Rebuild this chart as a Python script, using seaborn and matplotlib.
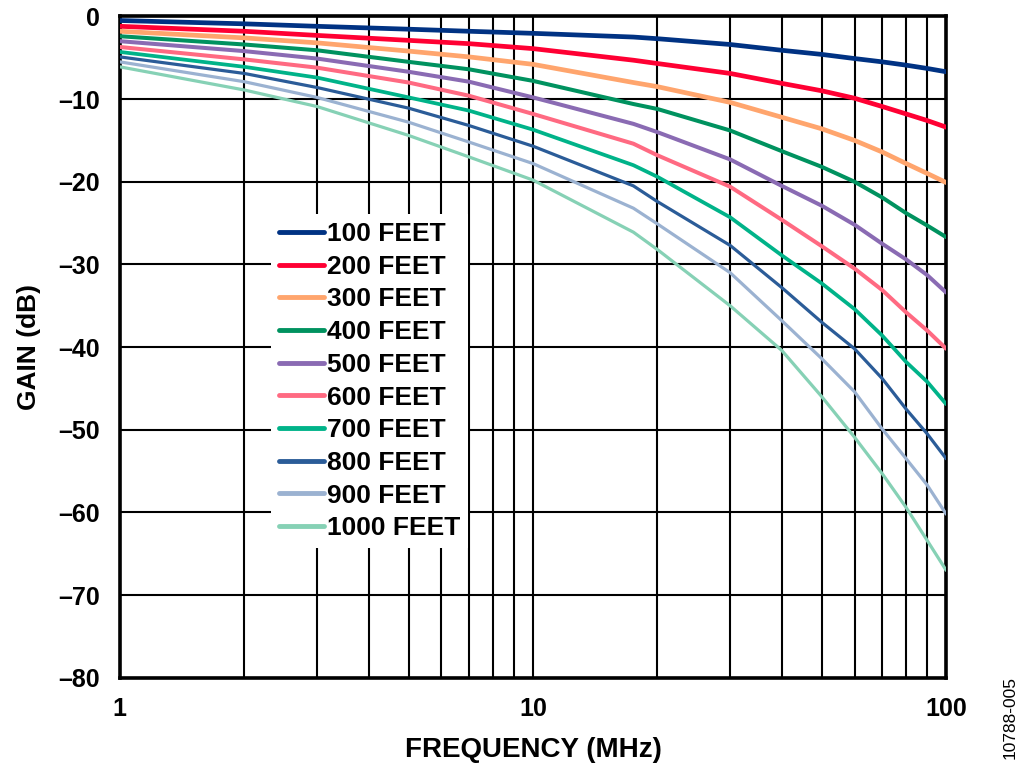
import matplotlib
matplotlib.use("Agg")
import matplotlib.pyplot as plt
import matplotlib.ticker as mticker
import seaborn as sns
import pandas as pd

# frequency points (MHz)
freq = [1, 2, 3, 5, 7, 10, 17.5, 20, 30, 40, 50, 60, 70, 80, 90, 100]

gain_100 = [-0.5, -0.9, -1.2, -1.55, -1.8, -2.05, -2.5, -2.7, -3.4, -4.1, -4.6, -5.1, -5.5, -5.9, -6.3, -6.7]
gain_200 = [-1.2, -1.8, -2.3, -2.9, -3.3, -3.9, -5.3, -5.7, -6.9, -8.1, -9.0, -9.9, -10.9, -11.8, -12.6, -13.4]
gain_300 = [-1.8, -2.6, -3.2, -4.2, -4.9, -5.8, -8.0, -8.5, -10.4, -12.2, -13.6, -15.0, -16.4, -17.8, -19.0, -20.1]
gain_400 = [-2.4, -3.4, -4.1, -5.5, -6.4, -7.8, -10.6, -11.2, -13.8, -16.3, -18.2, -20.0, -21.9, -23.8, -25.3, -26.7]
gain_500 = [-3.0, -4.2, -5.1, -6.7, -7.9, -9.8, -13.0, -14.0, -17.3, -20.5, -22.9, -25.2, -27.5, -29.4, -31.3, -33.4]
gain_600 = [-3.7, -5.2, -6.2, -8.0, -9.6, -11.8, -15.4, -16.8, -20.6, -24.6, -27.8, -30.5, -33.1, -35.8, -38.0, -40.2]
gain_700 = [-4.3, -6.1, -7.4, -9.8, -11.4, -13.7, -18.0, -19.4, -24.3, -28.9, -32.3, -35.4, -38.6, -41.8, -44.2, -46.9]
gain_800 = [-4.9, -6.9, -8.6, -11.1, -13.2, -15.7, -20.5, -22.4, -27.7, -32.8, -37.0, -40.2, -43.8, -47.5, -50.5, -53.5]
gain_900 = [-5.5, -7.9, -9.8, -12.8, -15.2, -17.8, -23.2, -25.1, -31.0, -36.8, -41.4, -45.4, -49.9, -53.5, -56.7, -60.2]
gain_1000 = [-6.1, -8.9, -10.9, -14.4, -17.0, -19.8, -26.1, -28.2, -35.0, -40.4, -46.0, -50.9, -55.3, -59.4, -63.4, -67.0]

labels = ["100 FEET", "200 FEET", "300 FEET", "400 FEET", "500 FEET",
          "600 FEET", "700 FEET", "800 FEET", "900 FEET", "1000 FEET"]
gains = [gain_100, gain_200, gain_300, gain_400, gain_500,
         gain_600, gain_700, gain_800, gain_900, gain_1000]

colors = ["#003283", "#ff0033", "#ffa56d", "#00925f", "#8a6bb3",
          "#ff6a82", "#00b389", "#2b5c98", "#9bb2d1", "#86d1b5"]
widths = [3.4, 3.4, 3.4, 2.9, 2.9, 2.9, 2.7, 2.3, 2.3, 2.3]

yticks = [0, -10, -20, -30, -40, -50, -60, -70, -80]
ytick_labels = ["0", "–10", "–20", "–30", "–40", "–50", "–60", "–70", "–80"]
xticks = [1, 10, 100]
xtick_labels = ["1", "10", "100"]

rows = []
for lab, g in zip(labels, gains):
    for f, v in zip(freq, g):
        rows.append({"freq": f, "gain": v, "cable": lab})
df = pd.DataFrame(rows)

sns.set_style("white")
plt.rcParams["font.family"] = ["Liberation Sans", "DejaVu Sans"]
plt.rcParams["text.color"] = "black"
plt.rcParams["axes.labelcolor"] = "black"
plt.rcParams["xtick.color"] = "black"
plt.rcParams["ytick.color"] = "black"

fig = plt.figure(figsize=(10.24, 7.80), dpi=100)
ax = fig.add_axes([0.117, 0.131, 0.807, 0.848])

for lab, col, lw in zip(labels, colors, widths):
    sns.lineplot(data=df[df["cable"] == lab], x="freq", y="gain",
                 color=col, linewidth=lw, label=lab, ax=ax, zorder=3)

ax.set_xscale("log")
ax.set_xlim(1, 100)
ax.set_ylim(-80, 0)

ax.xaxis.set_major_locator(mticker.FixedLocator(xticks))
ax.xaxis.set_major_formatter(mticker.FixedFormatter(xtick_labels))
ax.xaxis.set_minor_locator(mticker.LogLocator(base=10, subs=range(2, 10)))
ax.xaxis.set_minor_formatter(mticker.NullFormatter())
ax.set_yticks(yticks)
ax.set_yticklabels(ytick_labels)

ax.grid(which="both", axis="x", color="black", linewidth=1.5, zorder=1)
ax.grid(which="major", axis="y", color="black", linewidth=1.5, zorder=1)
ax.set_axisbelow(True)
ax.tick_params(which="both", length=0)
ax.tick_params(axis="x", pad=14, labelsize=18)
ax.tick_params(axis="y", pad=14, labelsize=18)
for t in ax.get_xticklabels() + ax.get_yticklabels():
    t.set_fontweight("bold")

for sp in ax.spines.values():
    sp.set_color("black")
    sp.set_linewidth(2.6)

ax.set_xlabel("FREQUENCY (MHz)", fontsize=20, fontweight="bold", labelpad=11)
ax.set_ylabel("GAIN (dB)", fontsize=19, fontweight="bold", labelpad=13)

leg = ax.legend(loc="upper left", bbox_to_anchor=(0.183, 0.701), borderaxespad=0,
                frameon=True, facecolor="white", edgecolor="none", framealpha=1,
                fancybox=False, handlelength=1.7, handletextpad=0.12,
                labelspacing=0.33, borderpad=0.3,
                prop={"size": 19, "weight": "bold"})
leg.set_zorder(5)
for h in leg.get_lines():
    h.set_linewidth(3.5)

fig.text(0.986, 0.08, "10788-005", rotation=90, fontsize=12.5, ha="center", va="center")

fig.savefig("out.png", dpi=100)
